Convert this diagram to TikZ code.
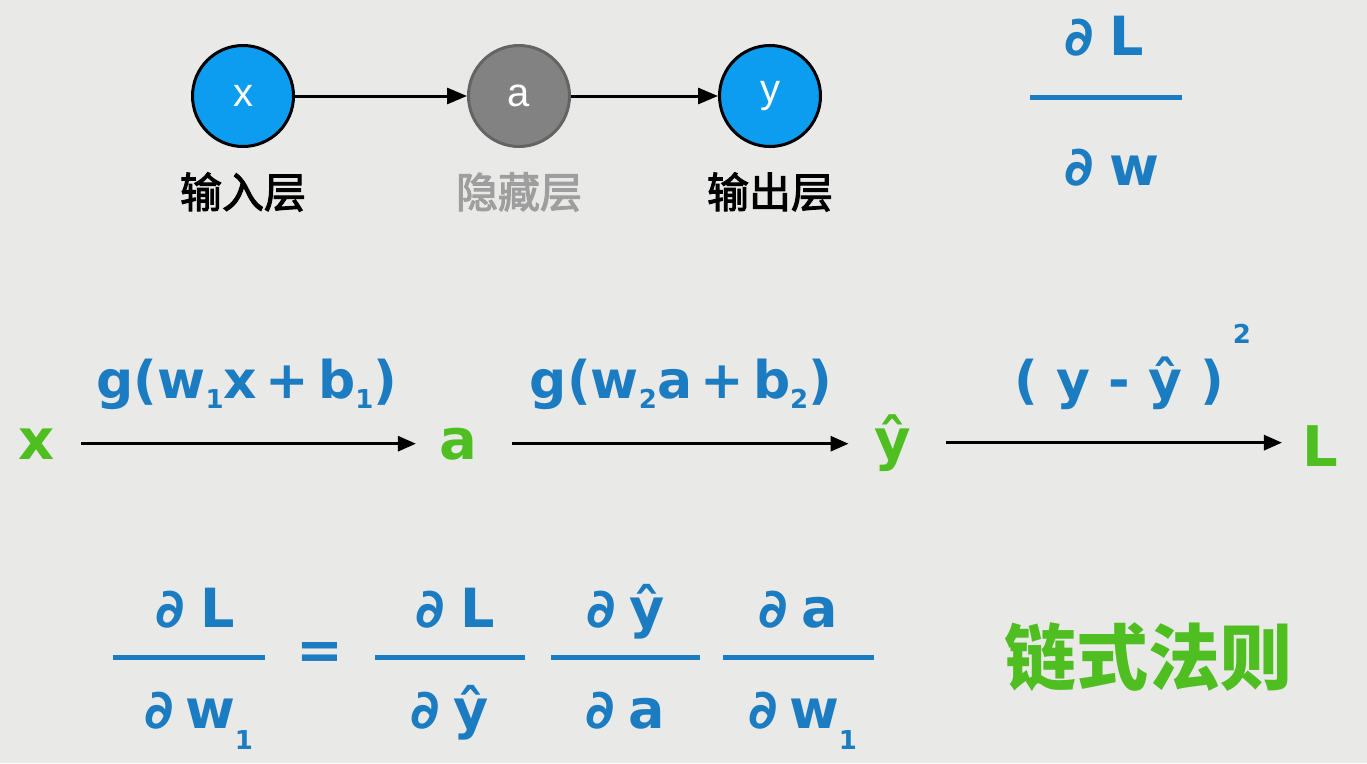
\documentclass[tikz,border=0pt]{standalone}
\usepackage{fontspec}
\setmainfont{DejaVu Sans}
\newfontfamily\cjk{Noto Sans CJK SC}
\newfontfamily\cjkm[FakeBold=2.5]{Noto Sans CJK SC}
\newfontfamily\arialf{Liberation Sans}
\usetikzlibrary{arrows.meta}
\definecolor{bgc}{RGB}{233,234,231}
\definecolor{nblue}{RGB}{12,156,240}
\definecolor{ngray}{RGB}{130,130,130}
\definecolor{ngrayd}{RGB}{100,100,100}
\definecolor{mblue}{RGB}{28,124,194}
\definecolor{mgreen}{RGB}{78,190,32}
\definecolor{lgray}{RGB}{158,158,158}
\newcommand\fs[1]{\fontsize{#1}{#1}\selectfont}
\newcommand\lo[2]{\raisebox{#1}{\fs{26}#2}}
\begin{document}
\begin{tikzpicture}[x=1pt,y=-1pt,
 circ/.style={circle,minimum size=101pt,inner sep=0pt,line width=3pt},
 conn/.style={line width=3pt,-{Triangle[length=20pt,width=16pt]}},
 conn2/.style={line width=3pt,-{Triangle[length=18pt,width=15pt]}},
 cjklab/.style={font=\cjkm\fs{42}},
 mtxt/.style={text=mblue,font=\bfseries\fs{52},inner sep=0pt,anchor=base},
 gtxt/.style={text=mgreen,font=\bfseries\fs{56},inner sep=0pt,anchor=base},
 fnum/.style={text=mblue,font=\bfseries\fs{54},inner sep=0pt,anchor=base},
 bar/.style={fill=mblue,inner sep=0pt,minimum height=5pt}]
\fill[bgc] (0,0) rectangle (1367,763);
\useasboundingbox (0,0) rectangle (1367,763);
% top network
\node[circ,fill=nblue,draw=black] (nx) at (243,96) {\arialf\fs{40}\color{white}x};
\node[circ,fill=ngray,draw=ngrayd] (na) at (519,96) {\arialf\fs{40}\color{white}a};
\node[circ,fill=nblue,draw=black] (ny) at (770,96) {\arialf\fs{40}\color{white}y};
\draw[conn] (nx) -- (na);
\draw[conn] (na) -- (ny);
\node[cjklab] (lx) at (243,192) {输入层};
\node[cjklab,text=lgray] (la) at (519,192) {隐藏层};
\node[cjklab] (ly) at (770,192) {输出层};
% top right fraction
\node[fnum] (tn) at (1104,55) {∂\hspace{0.3em}L};
\node[bar,minimum width=152pt] (tb) at (1106,97) {};
\node[fnum] (td) at (1112,185) {∂\hspace{0.3em}w};
% middle chain
\node[gtxt] (xg) at (37,459) {x};
\node[gtxt] (ag) at (458,459) {a};
\node[gtxt] (yg) at (893,459) {ŷ};
\node[gtxt] (Lg) at (1320,466) {L};
\draw[conn2,shorten <=26pt,shorten >=23pt] (xg.east) -- (xg.east -| ag.west);
\draw[conn2,shorten <=35pt,shorten >=26pt] (ag.east) -- (ag.east -| yg.west);
\draw[conn2,shorten <=35pt,shorten >=20pt] (yg.east) -- (yg.east -| Lg.west);
\node[mtxt] (l1) at (247,398) {g(w\lo{-0.2em}{1}x\,+\,b\lo{-0.2em}{1})};
\node[mtxt] (l2) at (681,398) {g(w\lo{-0.2em}{2}a\,+\,b\lo{-0.2em}{2})};
\node[mtxt] (l3) at (1133,398) {( y - ŷ )\,\raisebox{1.05em}{\fs{26}2}};
% bottom equation
\node[fnum] (n1) at (195,627) {∂\hspace{0.3em}L};
\node[bar,minimum width=152pt] (b1) at (189,657) {};
\node[fnum] (d1) at (199,728) {∂\hspace{0.2em}w\lo{-0.4em}{1}};
\node[text=mblue,font=\bfseries\fs{56}] (eq) at (320,656) {=};
\node[fnum] (n2) at (455,627) {∂\hspace{0.3em}L};
\node[bar,minimum width=150pt] (b2) at (450,657) {};
\node[fnum] (d2) at (450,728) {∂\hspace{0.25em}ŷ};
\node[fnum] (n3) at (625.5,627) {∂\hspace{0.25em}ŷ};
\node[bar,minimum width=149pt] (b3) at (625.5,657) {};
\node[fnum] (d3) at (625.5,728) {∂\hspace{0.25em}a};
\node[fnum] (n4) at (798.5,627) {∂\hspace{0.25em}a};
\node[bar,minimum width=151pt] (b4) at (798.5,657) {};
\node[fnum] (d4) at (803,728) {∂\hspace{0.2em}w\lo{-0.4em}{1}};
\node[font=\cjk\bfseries\fs{72},text=mgreen] (cr) at (1148,657) {链式法则};
\end{tikzpicture}
\end{document}
